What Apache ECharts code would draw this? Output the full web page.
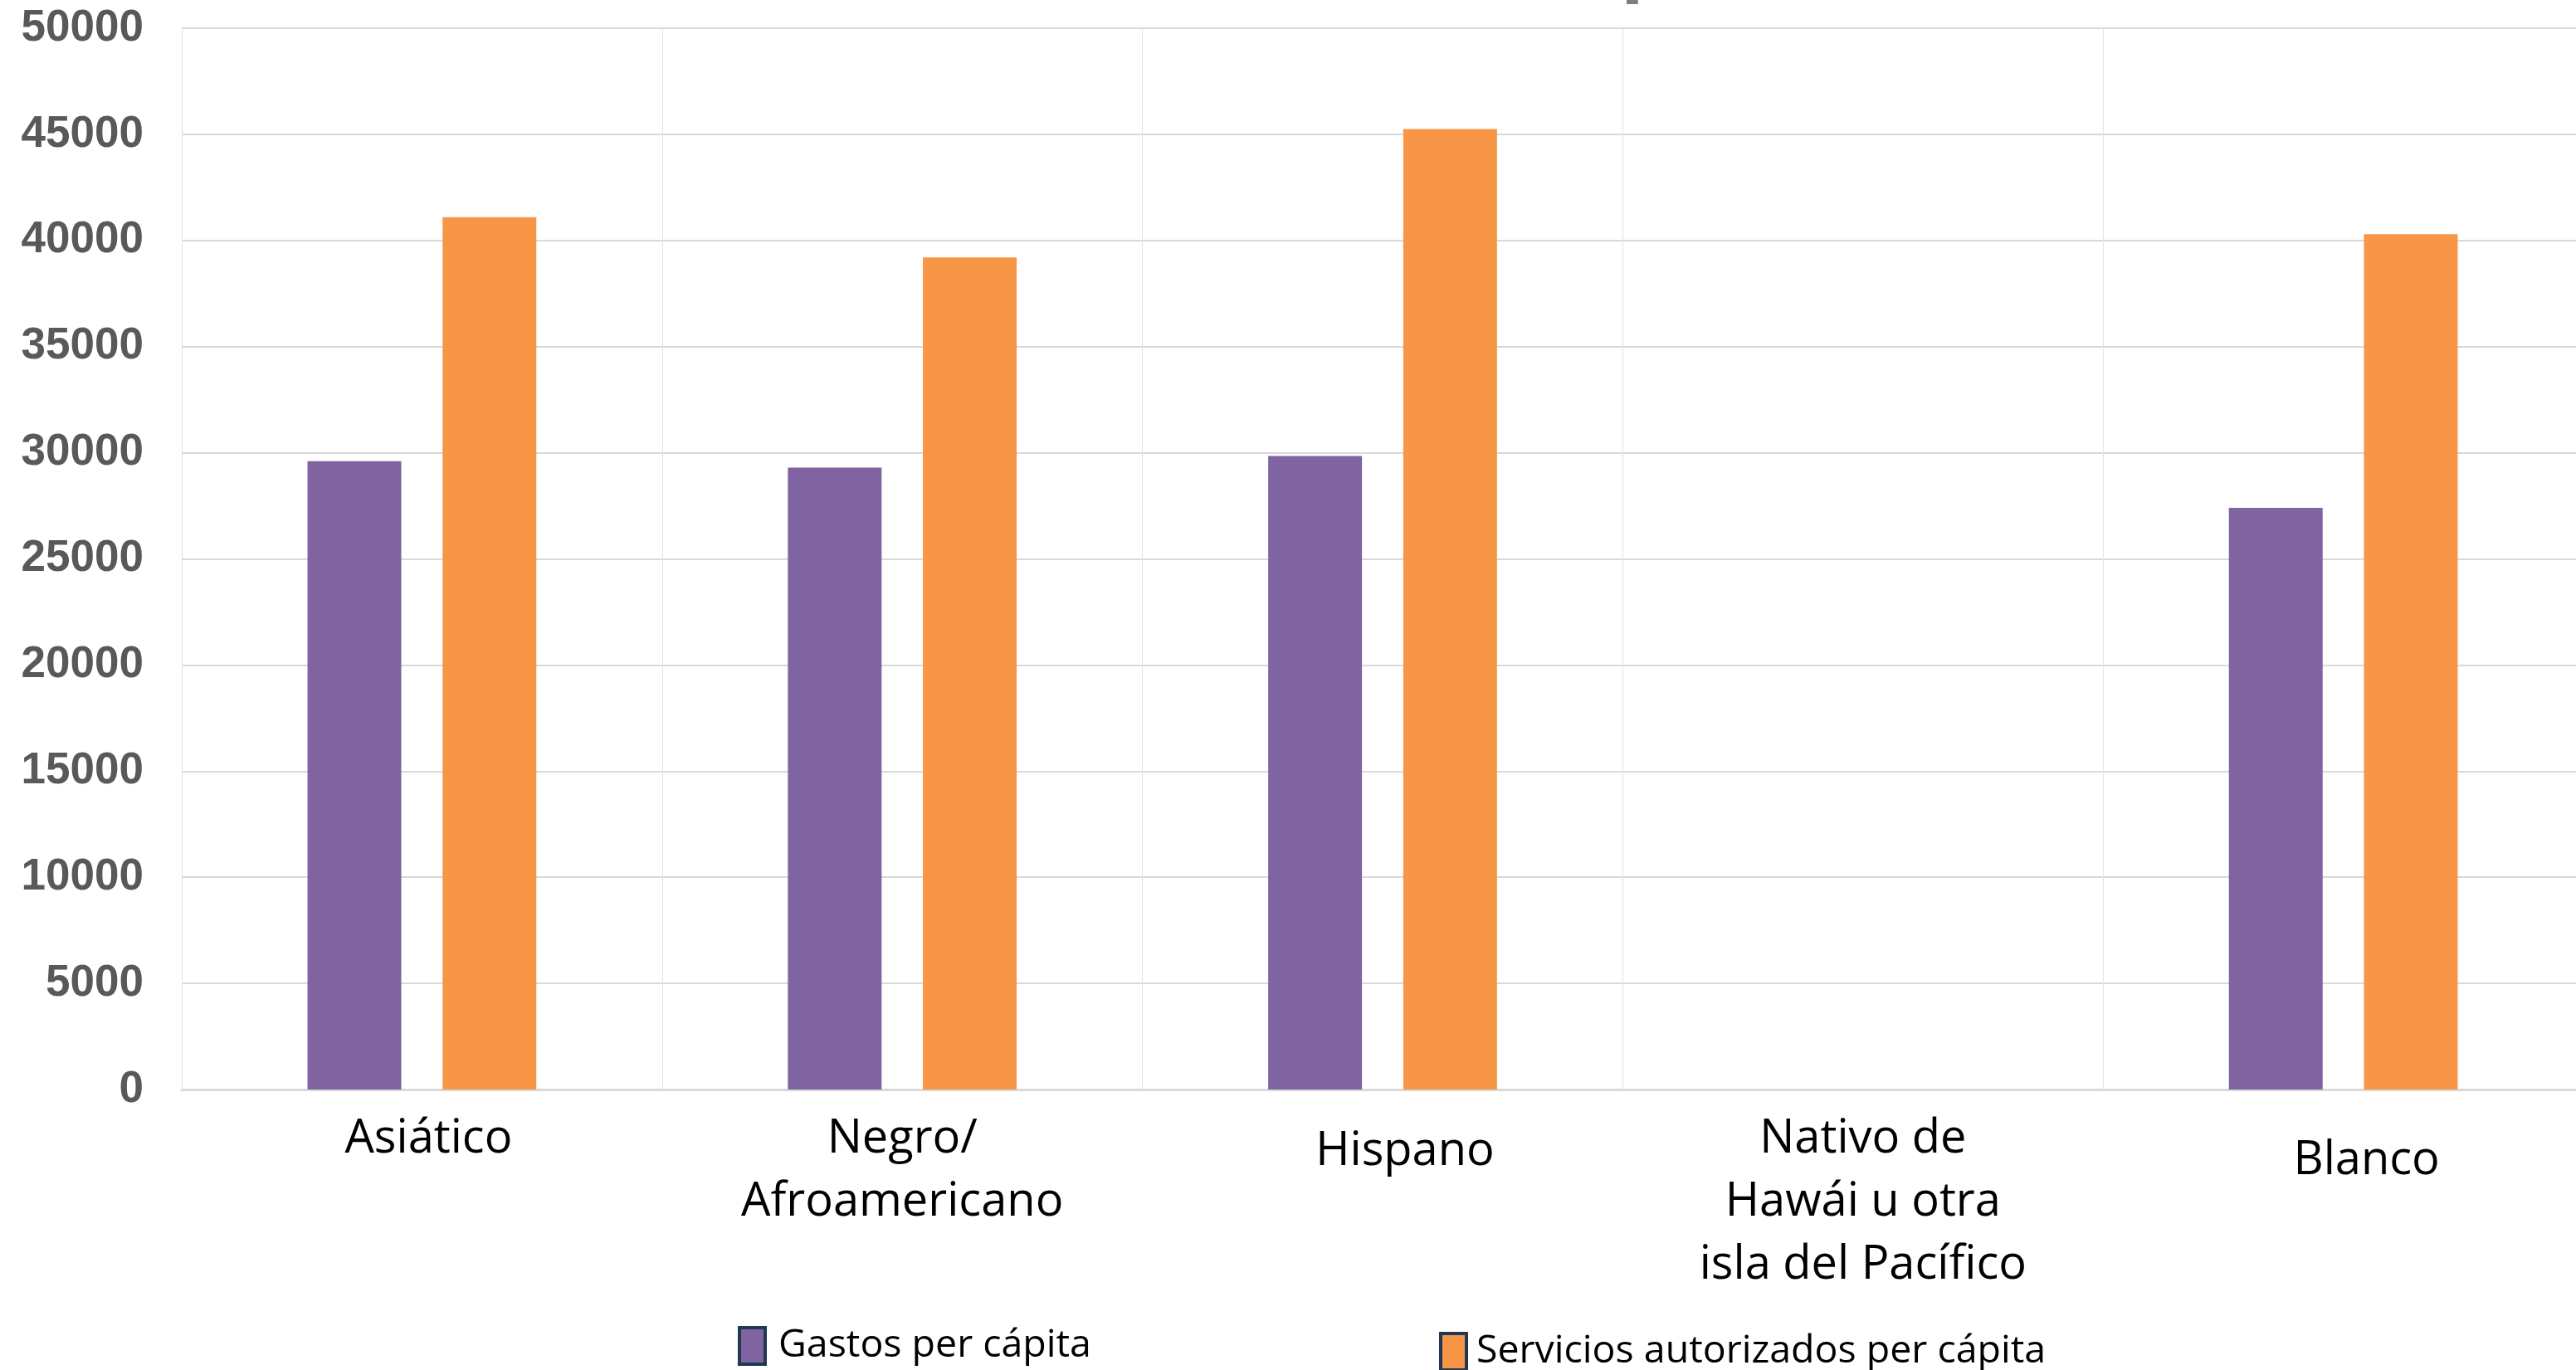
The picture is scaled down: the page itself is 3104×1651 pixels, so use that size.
<!DOCTYPE html>
<html>
<head>
  <meta charset="utf-8">
  <title>Gastos per cápita</title>
  <script src="https://cdn.jsdelivr.net/npm/echarts@6/dist/echarts.min.js"></script>
  <style>
    html, body { margin: 0; padding: 0; background: #ffffff; overflow: hidden; }
    /* the plot runs a few px past the right edge in the original */
    #chart { width: 3113px; height: 1651px; }
  </style>
</head>
<body>
  <div id="chart"></div>
  <script>
    // data
    const categories = [
      'Asiático',
      'Negro/\nAfroamericano',
      'Hispano',
      'Nativo de\nHawái u otra\nisla del Pacífico',
      'Blanco',
    ];
    const gastos = [29600, 29300, 29850, null, 27400];
    const servicios = [41100, 39200, 45250, null, 40300];
    const seriesNames = ['Gastos per cápita', 'Servicios autorizados per cápita'];
    const yTicks = { min: 0, max: 50000, step: 5000 };

    // the single-line labels sit a bit lower / to the right in the original
    const labelDrop = [0, 0, 15, 0, 26];
    const labelShift = [16, 0, 54, 0, 56];

    const chart = echarts.init(document.getElementById('chart'));

    const legendBase = {
      padding: 0,
      icon: 'rect',
      itemWidth: 31,
      itemHeight: 44,
      itemStyle: { borderColor: '#213852', borderWidth: 4 },
    };
    const legendText = (lift, gap) => ({
      fontFamily: 'Open Sans',
      fontSize: 46.5,
      color: '#000000',
      padding: [0, 0, lift, gap],
    });

    chart.setOption({
      animation: false,
      backgroundColor: '#ffffff',
      // title is cut off above the picture, only a descender peeks in
      title: {
        text: 'p',
        left: 1953,
        top: -94,
        padding: 0,
        textStyle: {
          fontFamily: 'Liberation Sans',
          fontWeight: 'bold',
          fontSize: 100,
          color: '#7F7F7F',
        },
      },
      grid: { left: 219, right: 0, top: 34, bottom: 338, containLabel: false },
      legend: [
        Object.assign({}, legendBase, {
          data: [seriesNames[0]],
          left: 889,
          top: 1598,
          textStyle: legendText(34, 11),
        }),
        Object.assign({}, legendBase, {
          data: [seriesNames[1]],
          left: 1734,
          top: 1605,
          textStyle: legendText(4, 7),
        }),
      ],
      xAxis: {
        type: 'category',
        data: categories.map((c, i) => ({
          value: c,
          textStyle: { padding: [labelDrop[i], 0, 0, labelShift[i]] },
        })),
        axisTick: { show: false },
        axisLine: { lineStyle: { color: '#D9D9D9', width: 3 } },
        splitLine: { show: true, lineStyle: { color: '#E3E3E3', width: 1 } },
        axisLabel: {
          margin: 22,
          interval: 0,
          fontFamily: 'Open Sans',
          fontSize: 56,
          lineHeight: 76,
          color: '#000000',
        },
      },
      yAxis: {
        type: 'value',
        min: yTicks.min,
        max: yTicks.max,
        interval: yTicks.step,
        axisLine: { show: false },
        axisTick: { show: false },
        splitLine: { lineStyle: { color: '#D9D9D9', width: 2 } },
        axisLabel: {
          margin: 46,
          fontFamily: 'Liberation Sans',
          fontWeight: 'bold',
          fontSize: 53,
          color: '#595959',
          formatter: (v) => String(v),
        },
      },
      series: [
        {
          name: seriesNames[0],
          type: 'bar',
          data: gastos,
          barWidth: 113,
          barGap: '44%',
          itemStyle: { color: '#8064A2' },
        },
        {
          name: seriesNames[1],
          type: 'bar',
          data: servicios,
          barWidth: 113,
          itemStyle: { color: '#F79646' },
        },
      ],
    });
  </script>
</body>
</html>
